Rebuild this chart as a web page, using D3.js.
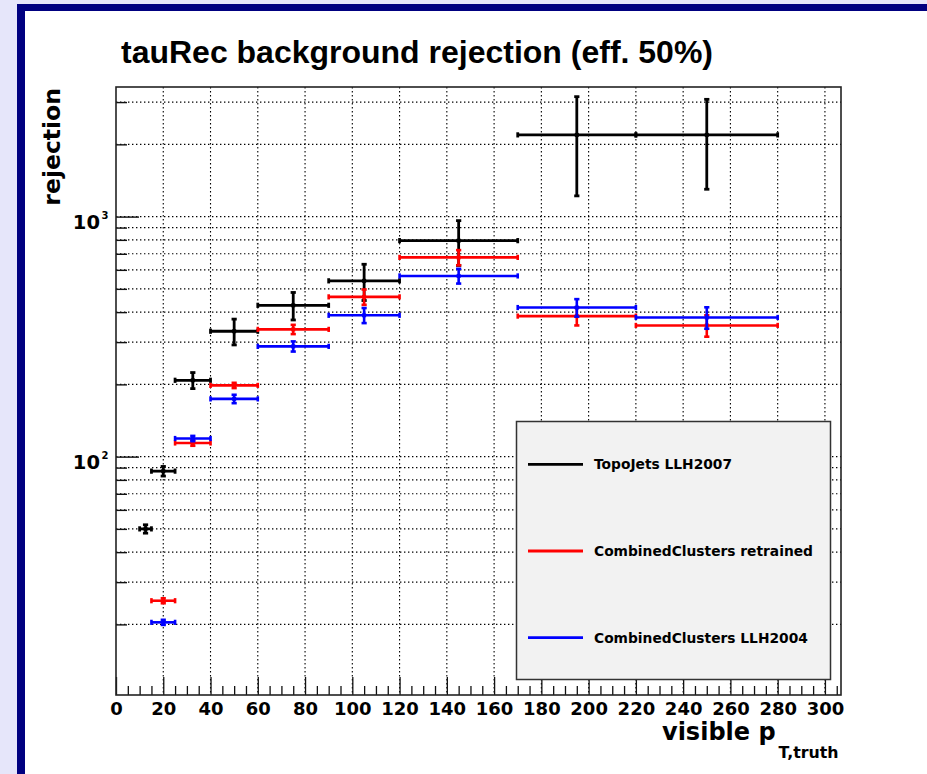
<!DOCTYPE html>
<html>
<head>
<meta charset="utf-8">
<script src="https://cdn.jsdelivr.net/npm/d3@7"></script>
<style>
  html, body { margin: 0; padding: 0; background: #e6e6fa; }
  svg { display: block; }
  text { font-family: "DejaVu Sans", sans-serif; font-weight: bold; fill: #000; }
</style>
</head>
<body>
<svg id="c" width="927" height="774"></svg>
<script>
// ---- data ----
const seriesNames  = ["TopoJets LLH2007", "CombinedClusters retrained", "CombinedClusters LLH2004"];
const seriesColors = ["#000000", "#ff0000", "#0000ff"];

// TopoJets LLH2007 bins (visible pT, GeV) and rejection
const topoLo  = [10, 15, 25, 40, 60, 90, 120, 170, 220];
const topoHi  = [15, 25, 40, 60, 90, 120, 170, 220, 280];
const topoVal = [50, 87, 208, 333, 427, 540, 794, 2190, 2190];
const topoErr = [2, 4, 16, 41, 56, 93, 168, 970, 890];

// CombinedClusters bins
const clusLo = [15, 25, 40, 60, 90, 120, 170, 220];
const clusHi = [25, 40, 60, 90, 120, 170, 220, 280];
const retrainedVal = [25.1, 114, 198, 339, 463, 676, 385, 352];
const retrainedErr = [0.6, 3, 5, 15, 34, 49, 33, 36];
const llh2004Val   = [20.4, 119, 174, 288, 388, 566, 418, 380];
const llh2004Err   = [0.5, 3, 7, 14, 28, 40, 35, 39];

const xMajorTicks = d3.range(0, 301, 20);
const xMinorTicks = d3.range(0, 306, 5).filter(v => v % 20 !== 0);
const yMajorTicks = [100, 1000];
const yMinorTicks = [20, 30, 40, 50, 60, 70, 80, 90, 200, 300, 400, 500, 600, 700, 800, 900, 2000, 3000];

const titleText = "tauRec background rejection (eff. 50%)";
const yTitle = "rejection";
const xTitleMain = "visible p";
const xTitleSub = "T,truth";

// ---- layout ----
const W = 927, H = 774;
const plot = { left: 116, right: 841, top: 87, bottom: 695 };

const svg = d3.select("#c");

// canvas: lavender surround, navy edge, white pad
svg.append("rect").attr("x", 0).attr("y", 0).attr("width", W).attr("height", H).attr("fill", "#e6e6fa");
svg.append("rect").attr("x", 17).attr("y", 4).attr("width", W - 17).attr("height", H - 4).attr("fill", "#000080");
svg.append("rect").attr("x", 25).attr("y", 11).attr("width", W - 25).attr("height", H - 11).attr("fill", "#ffffff");

const x = d3.scaleLinear().domain([0, 306.8]).range([plot.left, plot.right]);
const y = d3.scaleLog().domain([10.16, 3467]).range([plot.bottom, plot.top]);

// ---- grid ----
const grid = svg.append("g").attr("stroke", "#000").attr("stroke-width", 1.1)
  .attr("stroke-dasharray", "1.4,2.6").attr("fill", "none");
grid.selectAll("line.gx").data(xMajorTicks.filter(v => v > 0)).join("line")
  .attr("x1", d => x(d)).attr("x2", d => x(d))
  .attr("y1", plot.top).attr("y2", plot.bottom);
grid.selectAll("line.gy").data(yMajorTicks.concat(yMinorTicks)).join("line")
  .attr("x1", plot.left).attr("x2", plot.right)
  .attr("y1", d => y(d)).attr("y2", d => y(d));

// ---- axes ----
const xAxisMajor = d3.axisBottom(x).tickValues(xMajorTicks).tickSize(-18).tickPadding(7.5)
  .tickFormat(d3.format("d"));
const gx = svg.append("g").attr("transform", `translate(0,${plot.bottom})`).call(xAxisMajor);
gx.select(".domain").remove();
gx.attr("font-family", null).attr("font-size", null);
gx.selectAll("line").attr("stroke", "#111").attr("stroke-width", 1.3);
gx.selectAll("text").style("font-size", "18px");

const xAxisMinor = d3.axisBottom(x).tickValues(xMinorTicks).tickSize(-9).tickFormat("");
const gxm = svg.append("g").attr("transform", `translate(0,${plot.bottom})`).call(xAxisMinor);
gxm.select(".domain").remove();
gxm.selectAll("line").attr("stroke", "#111").attr("stroke-width", 1.3);

const yAxisMajor = d3.axisLeft(y).tickValues(yMajorTicks).tickSize(-23).tickFormat("");
const gy = svg.append("g").attr("transform", `translate(${plot.left},0)`).call(yAxisMajor);
gy.select(".domain").remove();
gy.selectAll("line").attr("stroke", "#111").attr("stroke-width", 1.4);

const yAxisMinor = d3.axisLeft(y).tickValues(yMinorTicks).tickSize(-11).tickFormat("");
const gym = svg.append("g").attr("transform", `translate(${plot.left},0)`).call(yAxisMinor);
gym.select(".domain").remove();
gym.selectAll("line").attr("stroke", "#111").attr("stroke-width", 1.4);

// y labels as 10^n
const yLab = svg.append("g");
yMajorTicks.forEach(v => {
  yLab.append("text").attr("x", 100).attr("y", y(v) + 12)
    .attr("text-anchor", "end").style("font-size", "19.5px").text("10");
  yLab.append("text").attr("x", 101.5).attr("y", y(v) + 2.5)
    .style("font-size", "10px").text(String(Math.round(Math.log10(v))));
});

// frame
svg.append("rect").attr("x", plot.left).attr("y", plot.top)
  .attr("width", plot.right - plot.left).attr("height", plot.bottom - plot.top)
  .attr("fill", "none").attr("stroke", "#222").attr("stroke-width", 1.6);

// ---- error-bar series ----
function drawSeries(lo, hi, val, err, color, lw) {
  const g = svg.append("g").attr("stroke", color).attr("fill", color).attr("stroke-width", lw);
  const cap = 2.6;
  val.forEach((v, i) => {
    const xl = x(lo[i]), xr = x(hi[i]), xc = x((lo[i] + hi[i]) / 2);
    const yc = y(v), yt = y(v + err[i]), yb = y(v - err[i]);
    g.append("line").attr("x1", xl).attr("x2", xr).attr("y1", yc).attr("y2", yc);
    g.append("line").attr("x1", xl).attr("x2", xl).attr("y1", yc - cap).attr("y2", yc + cap);
    g.append("line").attr("x1", xr).attr("x2", xr).attr("y1", yc - cap).attr("y2", yc + cap);
    g.append("line").attr("x1", xc).attr("x2", xc).attr("y1", yt).attr("y2", yb);
    g.append("line").attr("x1", xc - cap).attr("x2", xc + cap).attr("y1", yt).attr("y2", yt);
    g.append("line").attr("x1", xc - cap).attr("x2", xc + cap).attr("y1", yb).attr("y2", yb);
    g.append("rect").attr("x", xc - 2).attr("y", yc - 2).attr("width", 4).attr("height", 4).attr("stroke", "none");
  });
}
drawSeries(topoLo, topoHi, topoVal, topoErr, seriesColors[0], 2.8);
drawSeries(clusLo, clusHi, retrainedVal, retrainedErr, seriesColors[1], 2.6);
drawSeries(clusLo, clusHi, llh2004Val, llh2004Err, seriesColors[2], 2.6);

// ---- legend ----
const leg = svg.append("g");
leg.append("rect").attr("x", 516.5).attr("y", 421.5).attr("width", 314).attr("height", 258)
  .attr("fill", "#f2f2f2").attr("stroke", "#333").attr("stroke-width", 1.5);
const legY = [464.3, 551, 637.7];
seriesNames.forEach((name, i) => {
  leg.append("line").attr("x1", 528).attr("x2", 583).attr("y1", legY[i]).attr("y2", legY[i])
    .attr("stroke", seriesColors[i]).attr("stroke-width", 2.8);
  leg.append("text").attr("x", 594).attr("y", legY[i] + 5).style("font-size", "13.8px").text(name);
});

// ---- titles ----
svg.append("text").attr("x", 121).attr("y", 63)
  .style("font-family", "'Liberation Sans', Arial, sans-serif").style("font-size", "31px")
  .attr("textLength", 592).attr("lengthAdjust", "spacingAndGlyphs").text(titleText);

svg.append("text").attr("transform", "translate(60,88) rotate(-90)")
  .attr("text-anchor", "end").style("font-size", "23.5px").text(yTitle);

const xt = svg.append("text").attr("x", 662).attr("y", 740).style("font-size", "24px");
xt.append("tspan").text(xTitleMain);
xt.append("tspan").attr("dy", 18.3).style("font-size", "15.8px").attr("dx", 3).text(xTitleSub);
</script>
</body>
</html>
